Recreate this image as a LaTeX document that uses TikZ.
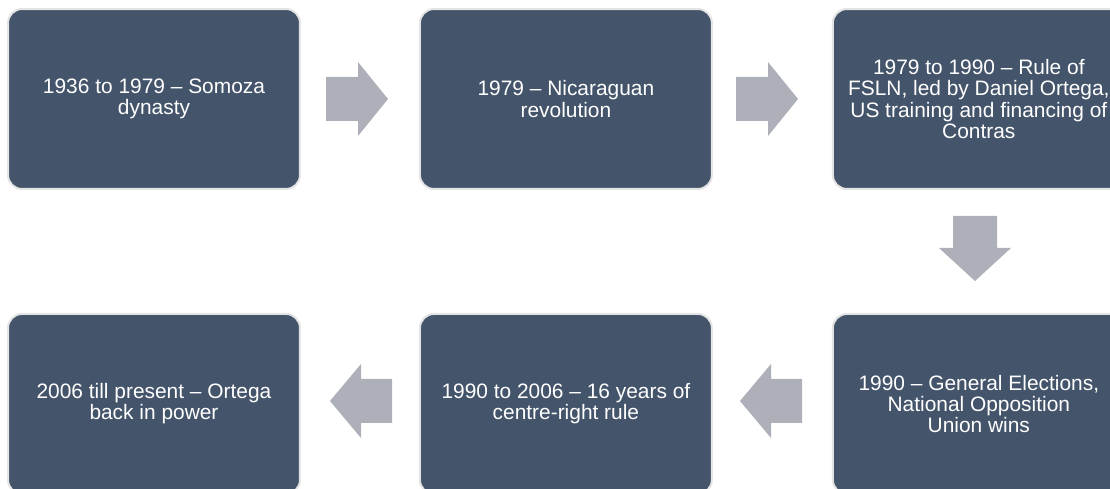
\documentclass[tikz,border=0pt]{standalone}
\usepackage{fontspec}
\setmainfont{Liberation Sans}
\usetikzlibrary{positioning}
\definecolor{boxblue}{HTML}{44546A}
\definecolor{boxedge}{HTML}{E4E4E4}
\definecolor{arrowgrey}{HTML}{ADB0B8}
\tikzset{
  stepbox/.style={rectangle,rounded corners=0.28cm,fill=boxblue,draw=boxedge,line width=0.04cm,
    minimum width=5.84cm,minimum height=3.6cm,text=white,align=center,inner sep=0pt,
    font=\fontsize{11.9}{12.1}\selectfont},
  blockarrow/.style={fill=arrowgrey}
}
\begin{document}
\begin{tikzpicture}[x=0.02cm,y=-0.02cm]
      \useasboundingbox (0,0) rectangle (1110,489);

      \node[stepbox] (s1) at (154,99) {1936 to 1979 -- Somoza\\dynasty};
      \node[stepbox,right=2.36cm of s1] (s2) {1979 -- Nicaraguan\\revolution};
      \node[stepbox,right=2.38cm of s2] (s3) {1979 to 1990 -- Rule of\\FSLN, led by Daniel Ortega,\\US training and financing of\\Contras};
      \node[stepbox,below=2.46cm of s3] (s4) {1990 -- General Elections,\\National Opposition\\Union wins};
      \node[stepbox,below=2.46cm of s2] (s5) {1990 to 2006 -- 16 years of\\centre-right rule};
      \node[stepbox,below=2.46cm of s1] (s6) {2006 till present -- Ortega\\back in power};

      \fill[blockarrow] (326,77) -- (358,77) -- (358,62) -- (388,99) -- (358,136) -- (358,121) -- (326,121) -- cycle;
      \fill[blockarrow] (736,77) -- (768,77) -- (768,62) -- (798,99) -- (768,136) -- (768,121) -- (736,121) -- cycle;

      \fill[blockarrow] (953,216) -- (997,216) -- (997,248) -- (1011,248) -- (975,281) -- (939,248) -- (953,248) -- cycle;

      \fill[blockarrow] (802,379) -- (771,379) -- (771,364) -- (740,401) -- (771,438) -- (771,423) -- (802,423) -- cycle;
      \fill[blockarrow] (392,379) -- (361,379) -- (361,364) -- (330,401) -- (361,438) -- (361,423) -- (392,423) -- cycle;
\end{tikzpicture}
\end{document}
